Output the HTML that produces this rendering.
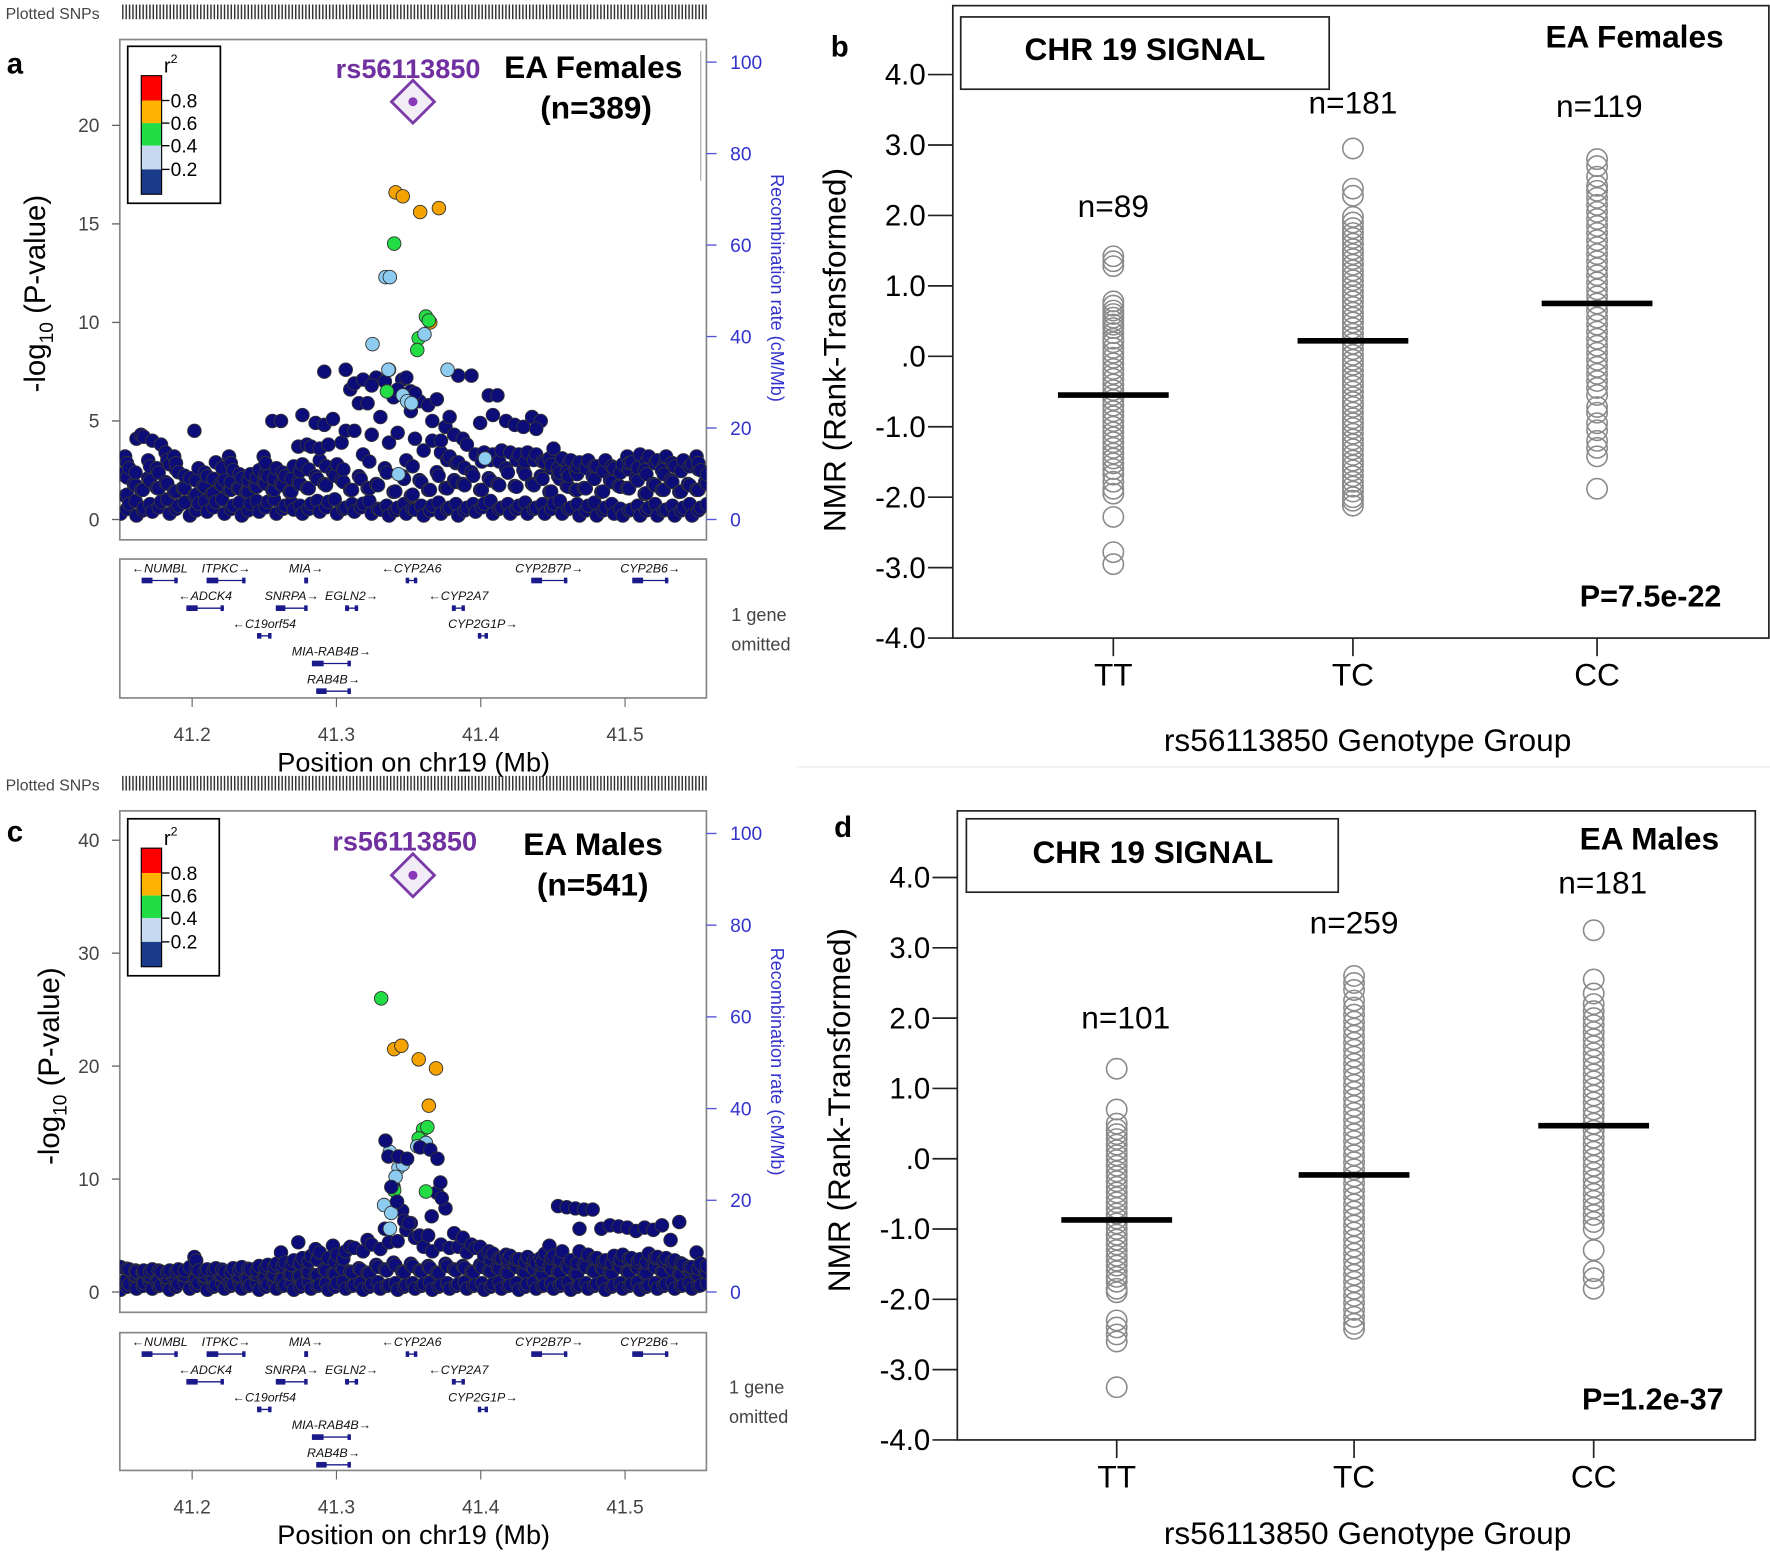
<!DOCTYPE html>
<html><head><meta charset="utf-8"><title>CHR19 signal</title>
<style>
html,body{margin:0;padding:0;background:#fff;}
svg{display:block;}
text{font-family:"Liberation Sans",sans-serif;}
</style></head>
<body>
<svg id="fig" width="1770" height="1554" viewBox="0 0 1566 1376" preserveAspectRatio="none" xmlns="http://www.w3.org/2000/svg">
<defs>
<pattern id="bar" width="3" height="10" patternUnits="userSpaceOnUse"><rect width="1.3" height="10" fill="#333"/></pattern>
</defs>
<rect width="1566" height="1376" fill="#fff"/>

<!-- ===== Panel a ===== -->
<g>
<text x="5" y="17" font-size="14" fill="#444">Plotted SNPs</text>
<rect x="108" y="4" width="518" height="13" fill="url(#bar)"/>
<text x="6" y="65" font-size="26" font-weight="bold">a</text>
<rect x="106" y="35" width="519" height="443" fill="none" stroke="#888" stroke-width="1.5"/>
<g id="axA"></g>
<text transform="translate(40,260) rotate(-90)" text-anchor="middle" font-size="26">-log<tspan font-size="17" dy="7">10</tspan><tspan dy="-7"> (P-value)</tspan></text>
<text transform="translate(682,255) rotate(90)" text-anchor="middle" font-size="16" fill="#3333cc">Recombination rate (cM/Mb)</text>
<line x1="620" y1="45" x2="620" y2="160" stroke="#aaa" stroke-width="1"/>
<g id="ptsA"></g>
<g>
<rect x="113" y="41" width="82" height="139" fill="#fff" stroke="#000" stroke-width="1.5"/>
<text x="145" y="64" font-size="18">r<tspan font-size="11" dy="-8">2</tspan></text>
<rect x="125" y="67" width="18" height="22" fill="#ff0000"/><rect x="125" y="89" width="18" height="20" fill="#ffb300"/><rect x="125" y="109" width="18" height="20" fill="#22dd44"/><rect x="125" y="129" width="18" height="21" fill="#c6d9f0"/><rect x="125" y="150" width="18" height="22" fill="#1a3a8a"/>
<rect x="125" y="67" width="18" height="105" fill="none" stroke="#000" stroke-width="1"/>
<g stroke="#000" stroke-width="1.2"><line x1="143" y1="89" x2="150" y2="89"/><line x1="143" y1="109" x2="150" y2="109"/><line x1="143" y1="129" x2="150" y2="129"/><line x1="143" y1="150" x2="150" y2="150"/></g>
<g font-size="17"><text x="151" y="95">0.8</text><text x="151" y="115">0.6</text><text x="151" y="135">0.4</text><text x="151" y="156">0.2</text></g>
</g>
<text x="297" y="69" font-size="24" font-weight="bold" fill="#7030a0">rs56113850</text>
<text x="446" y="69" font-size="28" font-weight="bold">EA Females</text>
<text x="478" y="105" font-size="28" font-weight="bold">(n=389)</text>
<g id="genesA"></g>
<g id="xaxA"></g>
<text x="366" y="683" text-anchor="middle" font-size="24">Position on chr19 (Mb)</text>
<text x="647" y="550" font-size="16" fill="#444">1 gene</text><text x="647" y="576" font-size="16" fill="#444">omitted</text>
</g>

<!-- ===== Panel c ===== -->
<g>
<text x="5" y="700" font-size="14" fill="#444">Plotted SNPs</text>
<rect x="108" y="687" width="518" height="13" fill="url(#bar)"/>
<text x="6" y="745" font-size="26" font-weight="bold">c</text>
<rect x="106" y="718" width="519" height="444" fill="none" stroke="#888" stroke-width="1.5"/>
<g id="axC"></g>
<text transform="translate(52,944) rotate(-90)" text-anchor="middle" font-size="26">-log<tspan font-size="17" dy="7">10</tspan><tspan dy="-7"> (P-value)</tspan></text>
<text transform="translate(682,940) rotate(90)" text-anchor="middle" font-size="16" fill="#3333cc">Recombination rate (cM/Mb)</text>
<g id="ptsC"></g>
<g>
<rect x="113" y="725" width="81" height="139" fill="#fff" stroke="#000" stroke-width="1.5"/>
<text x="145" y="748" font-size="18">r<tspan font-size="11" dy="-8">2</tspan></text>
<rect x="125" y="751" width="18" height="22" fill="#ff0000"/><rect x="125" y="773" width="18" height="20" fill="#ffb300"/><rect x="125" y="793" width="18" height="20" fill="#22dd44"/><rect x="125" y="813" width="18" height="21" fill="#c6d9f0"/><rect x="125" y="834" width="18" height="22" fill="#1a3a8a"/>
<rect x="125" y="751" width="18" height="105" fill="none" stroke="#000" stroke-width="1"/>
<g stroke="#000" stroke-width="1.2"><line x1="143" y1="773" x2="150" y2="773"/><line x1="143" y1="793" x2="150" y2="793"/><line x1="143" y1="813" x2="150" y2="813"/><line x1="143" y1="834" x2="150" y2="834"/></g>
<g font-size="17"><text x="151" y="779">0.8</text><text x="151" y="799">0.6</text><text x="151" y="819">0.4</text><text x="151" y="840">0.2</text></g>
</g>
<text x="294" y="753" font-size="24" font-weight="bold" fill="#7030a0">rs56113850</text>
<text x="463" y="757" font-size="28" font-weight="bold">EA Males</text>
<text x="475" y="793" font-size="28" font-weight="bold">(n=541)</text>
<g id="genesC"></g>
<g id="xaxC"></g>
<text x="366" y="1367" text-anchor="middle" font-size="24">Position on chr19 (Mb)</text>
<text x="645" y="1234" font-size="16" fill="#444">1 gene</text><text x="645" y="1260" font-size="16" fill="#444">omitted</text>
</g>

<line x1="705" y1="679" x2="1566" y2="679" stroke="#eee" stroke-width="1.5"/>

<!-- ===== Panel b ===== -->
<g id="panelB">
<text x="735" y="50" font-size="26" font-weight="bold">b</text>
<rect x="843" y="5" width="722" height="560" fill="none" stroke="#222" stroke-width="1.5"/>
<rect x="850" y="15" width="326" height="64" fill="none" stroke="#222" stroke-width="1.5"/>
<text x="1013" y="53" text-anchor="middle" font-size="28" font-weight="bold">CHR 19 SIGNAL</text>
<text x="1525" y="42" text-anchor="end" font-size="28" font-weight="bold">EA Females</text>
<text x="1523" y="537" text-anchor="end" font-size="27" font-weight="bold">P=7.5e-22</text>
<text transform="translate(748,310) rotate(-90)" text-anchor="middle" font-size="28">NMR (Rank-Transformed)</text>
<text x="1210" y="665" text-anchor="middle" font-size="28">rs56113850 Genotype Group</text>
</g>

<!-- ===== Panel d ===== -->
<g id="panelD">
<text x="738" y="741" font-size="26" font-weight="bold">d</text>
<rect x="847" y="718" width="706" height="557" fill="none" stroke="#222" stroke-width="1.5"/>
<rect x="855" y="725" width="329" height="65" fill="none" stroke="#222" stroke-width="1.5"/>
<text x="1020" y="764" text-anchor="middle" font-size="28" font-weight="bold">CHR 19 SIGNAL</text>
<text x="1521" y="752" text-anchor="end" font-size="28" font-weight="bold">EA Males</text>
<text x="1525" y="1248" text-anchor="end" font-size="27" font-weight="bold">P=1.2e-37</text>
<text transform="translate(752,983) rotate(-90)" text-anchor="middle" font-size="28">NMR (Rank-Transformed)</text>
<text x="1210" y="1367" text-anchor="middle" font-size="28">rs56113850 Genotype Group</text>
</g>
</svg>
<script>
// ---------- Manhattan data ----------
const bgPosA=[41.152,41.158,41.163,41.168,41.174,41.18,41.186,41.192,41.2,41.206,41.212,41.218,41.224,41.23,41.236,41.242,41.248,41.254,41.26,41.266,41.272,41.278,41.284,41.29,41.296,41.302,41.308,41.314,41.32,41.326,41.332,41.338,41.344,41.35,41.356,41.362,41.368,41.374,41.38,41.386,41.392,41.398,41.404,41.41,41.416,41.422,41.428,41.434,41.44,41.446,41.452,41.458,41.464,41.47,41.476,41.482,41.488,41.494,41.5,41.506,41.512,41.518,41.524,41.53,41.536,41.542,41.548,41.554];
const bgValsA=[[0.3,1.2,2.3,3.2],[0.8,1.8,2.6],[0.2,1.5,4.1,4.3],[0.6,2.1,4.2,3.0],[0.4,1.6,4.0,2.6],[0.9,1.9,3.8,3.4],[0.3,1.4,2.8,3.2],[0.7,1.6,2.4],[0.2,1.2,2.1,4.5],[0.8,1.7,2.6],[0.4,1.3,2.2],[0.9,1.8,2.9],[0.3,1.5,2.0,3.2],[0.7,1.6,2.5],[0.2,1.4,2.1],[0.8,1.7,2.3],[0.4,1.9,2.5,3.2],[0.9,1.5,2.2,5.0],[0.3,1.8,2.6,5.0],[0.7,1.4,2.2],[0.5,1.9,2.7,3.7],[0.3,1.6,2.8,3.8,5.3],[0.8,2.2,3.7,4.9],[0.4,1.8,3.0,4.8,3.6,7.5],[0.9,2.4,3.8,5.1],[0.3,2.0,2.8,3.9],[0.6,1.5,4.5,6.6,7.6],[0.4,2.2,4.5,5.9,6.9],[0.8,1.6,3.3,5.9,7.1],[0.3,1.8,4.3,7.2,6.8],[0.5,2.6,5.2,7.0],[0.2,1.4,3.9,6.2,7.6],[0.6,2.2,4.4,7.1,6.6],[0.3,1.2,3.0,6.5,7.2,5.5],[0.5,2.0,4.1,6.0,6.4],[0.2,1.5,3.5,5.8],[0.7,2.4,4.0,6.1,5.0],[0.3,1.6,3.4,4.7,4.0],[0.6,2.0,3.2,4.3,5.2],[0.2,1.8,2.9,4.1,7.3],[0.6,2.4,3.8,7.3],[0.4,1.5,3.3,4.9],[0.8,2.1,3.4,6.3],[0.3,1.8,3.3,6.3,5.3],[0.6,2.6,3.5,5.0],[0.3,1.7,3.4,4.8],[0.7,2.5,3.3,4.7],[0.3,1.8,3.4,5.2],[0.6,2.2,3.3,5.0,4.6],[0.3,1.4,2.9,3.1],[0.8,2.2,3.6,2.6],[0.3,1.7,3.1,2.4],[0.6,2.5,3.0,1.5],[0.2,1.6,2.9],[0.7,2.2,3.0],[0.2,1.4,2.7],[0.6,2.0,3.0],[0.3,1.7,2.6],[0.2,1.6,2.8,3.2],[0.5,2.1,2.9],[0.2,1.3,3.3,2.5],[0.6,1.8,3.2],[0.2,1.5,3.0,2.5],[0.5,2.0,3.2],[0.2,1.4,2.7],[0.6,1.8,3.0],[0.2,1.5,2.8,3.2],[0.6,1.9,2.5]];
const ldPosA=[41.341,41.346,41.358,41.371,41.365,41.340,41.362,41.364,41.357,41.356,41.335,41.334,41.337,41.325,41.336,41.377,41.346,41.349,41.352,41.361,41.403,41.343];
const ldValA=[16.6,16.4,15.6,15.8,10.0,14.0,10.3,10.1,9.2,8.6,6.5,12.3,12.3,8.9,7.6,7.6,6.3,6.0,5.9,9.4,3.1,2.3];
const ldCatA=[3,3,3,3,3,2,2,2,2,2,2,1,1,1,1,1,1,1,1,1,1,1];
const leadPosA=41.353, leadValA=21.2;

const bgPosC=bgPosA;
const bgValsC=[[0.2,1.0,2.2],[0.7,1.5,2.0],[0.3,1.2,1.8],[0.8,1.4,1.9],[0.3,1.0,2.0],[0.6,1.3,1.8],[0.2,1.2,1.9],[0.7,1.5,2.0],[0.3,1.1,2.2,3.1],[0.8,1.4,1.9],[0.2,1.3,2.0],[0.6,1.5,2.1],[0.3,1.0,1.8],[0.7,1.4,2.1],[0.3,1.2,2.2],[0.6,1.6,2.0],[0.2,1.3,2.3],[0.7,1.5,2.4],[0.3,1.1,2.5,3.5],[0.6,1.6,2.6],[0.2,1.4,2.8,4.4],[0.7,1.8,3.0],[0.3,1.5,3.2,3.8],[0.6,2.0,3.5],[0.2,1.6,3.0,4.1],[0.8,2.2,3.3],[0.3,1.8,3.6,4.0],[0.6,2.1,3.9],[0.2,1.7,3.6,4.6],[0.7,2.4,4.2],[0.3,2.0,3.8,5.6],[0.6,2.6,4.4,9.3],[0.2,1.8,4.5,7.2],[0.6,2.5,5.5,6.1],[0.3,1.9,4.8,5.0],[0.7,2.3,4.0,5.0],[0.2,1.7,3.6,8.8],[0.6,2.5,4.2,7.4],[0.3,2.0,3.9,5.2],[0.7,2.3,4.0,4.8],[0.3,1.8,3.5,4.2],[0.6,2.4,3.9,4.0],[0.2,1.9,3.2,3.6],[0.7,2.2,3.4],[0.3,1.7,3.0,3.3],[0.6,2.4,3.2],[0.2,1.8,2.9],[0.7,2.2,3.1],[0.3,1.6,2.6,3.0],[0.6,2.2,3.4,4.1],[0.3,1.8,3.2,7.6],[0.7,2.3,3.6,7.5],[0.2,1.6,2.8,7.4],[0.6,2.4,3.6,7.3,5.6],[0.3,1.9,3.3,7.3],[0.7,2.2,3.0,5.6],[0.2,1.7,2.8,5.9],[0.6,2.4,3.2,5.8],[0.3,1.8,3.3,5.7],[0.7,2.3,3.0,5.4],[0.2,1.7,2.9,5.7],[0.6,2.4,3.4,5.5],[0.3,1.8,3.1,5.9],[0.7,2.2,3.0,4.6],[0.3,1.6,2.8,6.2],[0.6,2.0,2.4],[0.3,1.5,2.2,3.5],[0.6,1.8,2.5]];
const ldPosC=[41.331,41.340,41.345,41.357,41.369,41.364,41.360,41.363,41.357,41.340,41.362,41.362,41.356,41.337,41.343,41.346,41.341,41.333,41.338,41.337,41.347,41.366,41.334,41.336,41.343,41.349,41.358,41.365,41.370,41.372,41.373,41.338,41.342,41.350];
const ldValC=[26.0,21.5,21.8,20.6,19.8,16.5,14.4,14.6,13.6,9.0,8.9,13.2,12.9,12.4,11.0,11.3,10.2,7.7,7.0,5.6,6.3,6.7,13.4,12.0,12.0,11.8,12.8,12.6,11.8,9.7,8.3,9.3,8.0,6.1];
const ldCatC=[2,3,3,3,3,3,2,2,2,2,2,1,1,1,1,1,1,1,1,1,0,0,0,0,0,0,0,0,0,0,0,0,0,0];
const leadPosC=41.353, leadValC=36.9;

const xTicks=[41.2,41.3,41.4,41.5];
const yTicksA=[0,5,10,15,20];
const yTicksC=[0,10,20,30,40];
const rTicks=[0,20,40,60,80,100];
const catColors=['#0d0d7a','#8ecbf0','#22dd44','#f5a300','#ff0000'];

// ---------- Genes ----------
const geneNames=['NUMBL','ITPKC','MIA','CYP2A6','CYP2B7P','CYP2B6','ADCK4','SNRPA','EGLN2','CYP2A7','C19orf54','CYP2G1P','MIA-RAB4B','RAB4B'];
const geneStart=[41.165,41.21,41.278,41.348,41.435,41.505,41.196,41.258,41.306,41.38,41.245,41.398,41.283,41.286];
const geneEnd=[41.19,41.237,41.28,41.356,41.46,41.53,41.222,41.28,41.315,41.389,41.255,41.405,41.31,41.31];
const geneRow=[0,0,0,0,0,0,1,1,1,1,2,2,3,4];
const geneDir=[-1,1,1,-1,1,1,-1,1,1,-1,-1,1,1,1];

// ---------- Genotype data ----------
const groups=['TT','TC','CC'];
const bTT=[1.42,1.35,1.28,0.78,0.72,0.65,0.6,0.55,0.5,0.45,0.4,0.33,0.25,0.2,0.12,0.05,-0.02,-0.1,-0.18,-0.25,-0.32,-0.4,-0.48,-0.55,-0.62,-0.7,-0.78,-0.85,-0.92,-1.0,-1.08,-1.15,-1.22,-1.3,-1.38,-1.45,-1.52,-1.6,-1.68,-1.78,-1.88,-1.95,-2.28,-2.78,-2.95];
const bTC=[2.95,2.38,2.28,1.98,1.9,1.82,1.75,1.68,1.6,1.52,1.45,1.38,1.3,1.22,1.15,1.08,1.0,0.92,0.85,0.78,0.7,0.62,0.55,0.48,0.4,0.32,0.25,0.18,0.1,0.02,-0.05,-0.12,-0.2,-0.28,-0.35,-0.42,-0.5,-0.58,-0.65,-0.72,-0.8,-0.88,-0.95,-1.02,-1.1,-1.18,-1.25,-1.32,-1.4,-1.48,-1.55,-1.62,-1.7,-1.78,-1.85,-1.92,-2.0,-2.05,-2.12];
const bCC=[2.8,2.7,2.55,2.42,2.35,2.25,2.15,2.05,1.95,1.85,1.75,1.65,1.55,1.45,1.35,1.25,1.15,1.05,0.95,0.85,0.75,0.65,0.55,0.45,0.35,0.25,0.15,0.05,-0.05,-0.15,-0.25,-0.35,-0.45,-0.55,-0.72,-0.8,-0.95,-1.05,-1.2,-1.3,-1.42,-1.88];
const bMeans=[-0.55,0.22,0.75];
const bN=['n=89','n=181','n=119'];
const bNY=[1.98,3.45,3.4];
const dTT=[1.28,0.7,0.5,0.42,0.35,0.28,0.2,0.12,0.05,-0.02,-0.1,-0.18,-0.25,-0.32,-0.4,-0.48,-0.55,-0.62,-0.7,-0.78,-0.85,-0.92,-1.0,-1.08,-1.15,-1.22,-1.3,-1.38,-1.45,-1.52,-1.6,-1.68,-1.75,-1.85,-1.9,-2.3,-2.4,-2.5,-2.6,-3.25];
const dTC=[2.6,2.5,2.4,2.25,2.15,2.05,1.95,1.85,1.75,1.65,1.55,1.45,1.35,1.25,1.15,1.05,0.95,0.85,0.75,0.65,0.55,0.45,0.35,0.25,0.15,0.05,-0.05,-0.15,-0.25,-0.35,-0.45,-0.55,-0.65,-0.75,-0.85,-0.95,-1.05,-1.15,-1.25,-1.35,-1.45,-1.55,-1.65,-1.75,-1.85,-1.95,-2.05,-2.15,-2.25,-2.35,-2.42];
const dCC=[3.25,2.55,2.35,2.2,2.1,2.0,1.9,1.8,1.7,1.6,1.5,1.4,1.3,1.2,1.1,1.0,0.9,0.8,0.7,0.6,0.5,0.4,0.3,0.2,0.1,0.0,-0.1,-0.2,-0.3,-0.4,-0.5,-0.6,-0.7,-0.8,-0.9,-1.0,-1.3,-1.6,-1.7,-1.85];
const dMeans=[-0.87,-0.23,0.47];
const dN=['n=101','n=259','n=181'];
const dNY=[1.85,3.2,3.77];
const nmrTicks=[4,3,2,1,0,-1,-2,-3,-4];
const nmrTickLabels=['4.0','3.0','2.0','1.0','.0','-1.0','-2.0','-3.0','-4.0'];

const NS='http://www.w3.org/2000/svg';
function mk(tag,attrs,parent){const e=document.createElementNS(NS,tag);for(const k in attrs)e.setAttribute(k,attrs[k]);parent.appendChild(e);return e;}
const xM=pos=>170+(pos-41.2)*1276.7;

function manhattan(cfg){
  const yS=p=>cfg.y0-p*cfg.ppu;
  const rS=r=>cfg.y0-r*(cfg.y0-cfg.r100)/100;
  const ax=document.getElementById(cfg.ax);
  cfg.yTicks.forEach(t=>{
    const l=mk('line',{x1:99,x2:106,y1:yS(t),y2:yS(t),stroke:'#666','stroke-width':1.2},ax);
    
    
    const tx=mk('text',{x:88,y:yS(t)+6,'text-anchor':'end','font-size':17,fill:'#444'},ax);
    
    
    tx.textContent=t;
  });
  rTicks.forEach(t=>{
    const l=mk('line',{x1:625,x2:634,y1:rS(t),y2:rS(t),stroke:'#5555dd','stroke-width':1.2},ax);
    
    
    const tx=mk('text',{x:646,y:rS(t)+6,'font-size':17,fill:'#3333cc'},ax);
    
    
    tx.textContent=t;
  });
  const g=document.getElementById(cfg.pts);
  const clipId='clip'+cfg.pts;
  const cp=mk('clipPath',{id:clipId},g);mk('rect',{x:106,y:cfg.top,width:519,height:cfg.y0-cfg.top+18},cp);
  g.setAttribute('clip-path','url(#'+clipId+')');
  cfg.bgPos.forEach((pos,i)=>{
    cfg.bgVals[i].forEach((v,j)=>{
      const c=mk('circle',{cx:xM(pos)+(j%2?2:-2),cy:yS(v),r:6,fill:catColors[0],stroke:'#333','stroke-width':0.8},g);
      
      
      if(v<3.5){
        const c2=mk('circle',{cx:xM(pos+0.0028),cy:yS(v*0.8+0.3),r:6,fill:catColors[0],stroke:'#333','stroke-width':0.8},g);
        
        
      }
    });
  });
  cfg.ldPos.forEach((pos,i)=>{
    const c=mk('circle',{cx:xM(pos),cy:yS(cfg.ldVal[i]),r:6,fill:catColors[cfg.ldCat[i]],stroke:'#333','stroke-width':0.8},g);
    
    
  });
  const lx=xM(cfg.leadPos),ly=yS(cfg.leadVal);
  const d=mk('polygon',{points:`${lx},${ly-19} ${lx+19},${ly} ${lx},${ly+19} ${lx-19},${ly}`,fill:'#f1ecf6',stroke:'#7a3aa8','stroke-width':2.5},g);
  
  
  mk('circle',{cx:lx,cy:ly,r:4,fill:'#8a3ab8'},g);
  const xa=document.getElementById(cfg.xax);
  xTicks.forEach(t=>{
    const l=mk('line',{x1:xM(t),x2:xM(t),y1:cfg.gBot,y2:cfg.gBot+8,stroke:'#666'},xa);
    
    
    const tx=mk('text',{x:xM(t),y:cfg.gBot+38,'text-anchor':'middle','font-size':17,fill:'#444'},xa);
    
    
    tx.textContent=t.toFixed(1);
  });
  const gg=document.getElementById(cfg.genes);
  mk('rect',{x:106,y:cfg.gTop,width:519,height:cfg.gBot-cfg.gTop,fill:'none',stroke:'#888','stroke-width':1.5},gg);
  geneNames.forEach((n,i)=>{
    const x1=xM(geneStart[i]),x2=xM(geneEnd[i]),yy=cfg.gTop+10+geneRow[i]*24.5;
    const ln=mk('line',{x1:x1,x2:x2,y1:yy+9,y2:yy+9,stroke:'#1a1a8a','stroke-width':1.2},gg);
    
    
    mk('rect',{x:x1,y:yy+6.5,width:Math.max(3,(x2-x1)*0.3),height:5,fill:'#1a1a8a'},gg);
    mk('rect',{x:x2-3,y:yy+6.5,width:3,height:5,fill:'#1a1a8a'},gg);
    const t=mk('text',{x:(x1+x2)/2,y:yy+2,'text-anchor':'middle','font-size':11,'font-style':'italic',fill:'#111'},gg);
    
    
    t.textContent=geneDir[i]<0?'\u2190'+n:n+'\u2192';
  });
}
manhattan({ax:'axA',pts:'ptsA',xax:'xaxA',genes:'genesA',y0:460,ppu:17.45,r100:55,top:35,yTicks:yTicksA,bgPos:bgPosA,bgVals:bgValsA,ldPos:ldPosA,ldVal:ldValA,ldCat:ldCatA,leadPos:leadPosA,leadVal:leadValA,gTop:495,gBot:618});
manhattan({ax:'axC',pts:'ptsC',xax:'xaxC',genes:'genesC',y0:1144,ppu:10,r100:738,top:718,yTicks:yTicksC,bgPos:bgPosC,bgVals:bgValsC,ldPos:ldPosC,ldVal:ldValC,ldCat:ldCatC,leadPos:leadPosC,leadVal:leadValC,gTop:1180,gBot:1302});

function genotype(cfg){
  const g=document.getElementById(cfg.id);
  const yS=v=>cfg.yTop+(4-v)*(cfg.yBot-cfg.yTop)/8;
  nmrTicks.forEach((t,i)=>{
    const l=mk('line',{x1:cfg.left-22,x2:cfg.left,y1:yS(t),y2:yS(t),stroke:'#222','stroke-width':1.5},g);
    
    
    const tx=mk('text',{x:cfg.left-24,y:yS(t)+9,'text-anchor':'end','font-size':26},g);
    
    
    tx.textContent=nmrTickLabels[i];
  });
  groups.forEach((gr,k)=>{
    const x=cfg.xs[k];
    const l=mk('line',{x1:x,x2:x,y1:cfg.yBot,y2:cfg.yBot+16,stroke:'#222','stroke-width':1.5},g);
    
    
    const tx=mk('text',{x:x,y:cfg.yBot+42,'text-anchor':'middle','font-size':28},g);
    
    
    tx.textContent=gr;
    cfg.vals[k].forEach(v=>{
      const c=mk('circle',{cx:x,cy:yS(v),r:9,fill:'none',stroke:'#8a8a8a','stroke-width':1.4},g);
      
      
    });
    const m=mk('line',{x1:x-49,x2:x+49,y1:yS(cfg.means[k]),y2:yS(cfg.means[k]),stroke:'#000','stroke-width':5},g);
    
    
    const n=mk('text',{x:x+cfg.nOff[k],y:yS(cfg.nY[k]),'text-anchor':'middle','font-size':28},g);
    
    
    n.textContent=cfg.ns[k];
  });
}
genotype({id:'panelB',left:843,yTop:66,yBot:565,xs:[985,1197,1413],vals:[bTT,bTC,bCC],means:bMeans,ns:bN,nY:bNY,nOff:[0,0,2]});
genotype({id:'panelD',left:847,yTop:777,yBot:1275,xs:[988,1198,1410],vals:[dTT,dTC,dCC],means:dMeans,ns:dN,nY:dNY,nOff:[8,0,8]});
</script>
</body></html>
